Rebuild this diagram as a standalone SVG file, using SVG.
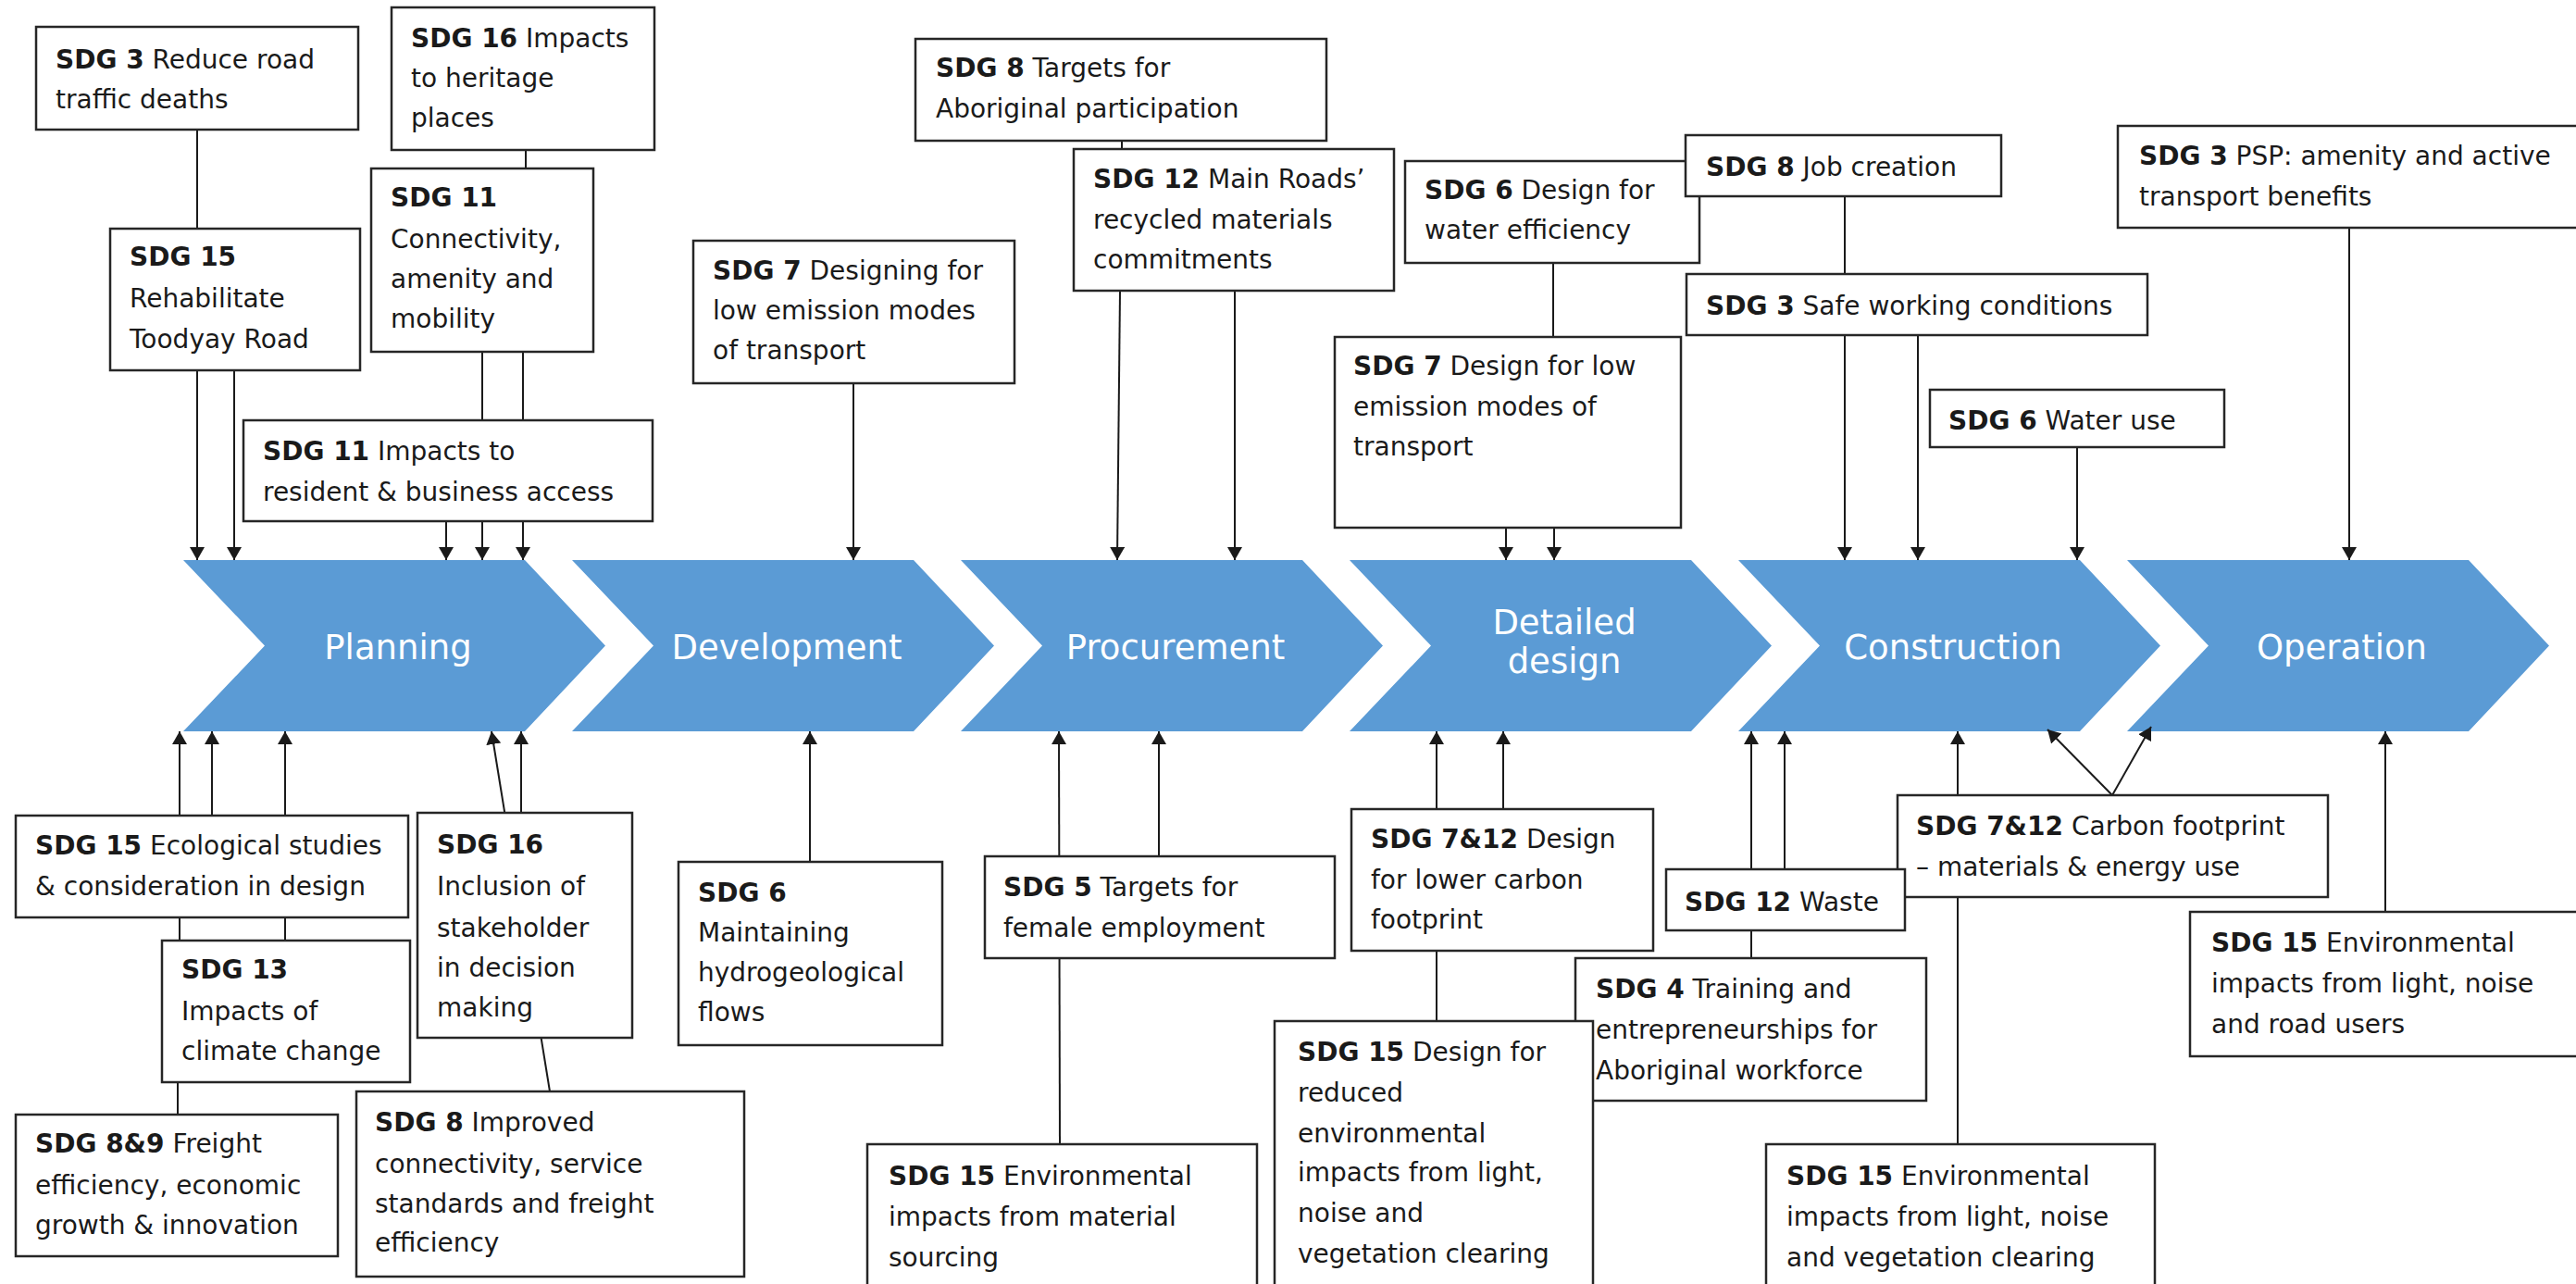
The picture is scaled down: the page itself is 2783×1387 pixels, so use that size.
<svg xmlns="http://www.w3.org/2000/svg" width="2783" height="1387" viewBox="0 0 2783 1387">
<style>
.bg{fill:#ffffff}
.chev{fill:#5B9BD5}
.clab{font-family:"DejaVu Sans","Liberation Sans",sans-serif;font-size:37px;fill:#ffffff;text-anchor:middle}
.box{fill:#ffffff;stroke:#262626;stroke-width:2.5}
.t{font-family:"DejaVu Sans","Liberation Sans",sans-serif;font-size:28px;fill:#1a1a1a}
.b{font-weight:bold}
.ln{stroke:#1a1a1a;stroke-width:2;fill:none}
.ar{stroke:#1a1a1a;stroke-width:2;fill:none;marker-end:url(#ah)}
</style>
<defs>
<marker id="ah" viewBox="0 0 14 16" refX="14" refY="8" markerWidth="14" markerHeight="16" markerUnits="userSpaceOnUse" orient="auto"><path d="M0,0 L14,8 L0,16 z" fill="#1a1a1a"/></marker>
</defs>
<rect class="bg" x="0" y="0" width="2783" height="1387"/>

<g id="stages">
<g id="planning"><polygon class="chev" points="198,605 567,605 654,697.5 567,790 198,790 286,697.5"/><text class="clab" x="430" y="712">Planning</text></g>
<g id="development"><polygon class="chev" points="618,605 987,605 1074,697.5 987,790 618,790 706,697.5"/><text class="clab" x="850" y="712">Development</text></g>
<g id="procurement"><polygon class="chev" points="1038,605 1407,605 1494,697.5 1407,790 1038,790 1126,697.5"/><text class="clab" x="1270" y="712">Procurement</text></g>
<g id="detailed-design"><polygon class="chev" points="1458,605 1827,605 1914,697.5 1827,790 1458,790 1546,697.5"/><text class="clab" x="1690" y="685">Detailed</text><text class="clab" x="1690" y="727">design</text></g>
<g id="construction"><polygon class="chev" points="1878,605 2247,605 2334,697.5 2247,790 1878,790 1966,697.5"/><text class="clab" x="2110" y="712">Construction</text></g>
<g id="operation"><polygon class="chev" points="2298,605 2667,605 2754,697.5 2667,790 2298,790 2386,697.5"/><text class="clab" x="2530" y="712">Operation</text></g>
</g>

<g id="connectors">
<line class="ln" x1="213" y1="140" x2="213" y2="247"/>
<line class="ar" x1="213" y1="400" x2="213" y2="605"/>
<line class="ar" x1="253" y1="400" x2="253" y2="605"/>
<line class="ln" x1="568" y1="162" x2="568" y2="182"/>
<line class="ar" x1="521" y1="380" x2="521" y2="605"/>
<line class="ar" x1="565" y1="380" x2="565" y2="605"/>
<line class="ar" x1="482" y1="563" x2="482" y2="605"/>
<line class="ar" x1="922" y1="414" x2="922" y2="605"/>
<line class="ln" x1="1212" y1="152" x2="1212" y2="161"/>
<line class="ar" x1="1210" y1="314" x2="1207" y2="605"/>
<line class="ar" x1="1334" y1="314" x2="1334" y2="605"/>
<line class="ln" x1="1678" y1="284" x2="1678" y2="364"/>
<line class="ar" x1="1627" y1="570" x2="1627" y2="605"/>
<line class="ar" x1="1679" y1="570" x2="1679" y2="605"/>
<line class="ln" x1="1993" y1="212" x2="1993" y2="296"/>
<line class="ar" x1="1993" y1="362" x2="1993" y2="605"/>
<line class="ar" x1="2072" y1="362" x2="2072" y2="605"/>
<line class="ar" x1="2244" y1="483" x2="2244" y2="605"/>
<line class="ar" x1="2538" y1="246" x2="2538" y2="605"/>

<line class="ar" x1="194" y1="1016" x2="194" y2="790"/>
<line class="ar" x1="229" y1="881" x2="229" y2="790"/>
<line class="ar" x1="308" y1="1016" x2="308" y2="790"/>
<line class="ln" x1="192" y1="1169" x2="192" y2="1204"/>
<line class="ar" x1="594" y1="1179" x2="531" y2="790"/>
<line class="ar" x1="563" y1="878" x2="563" y2="790"/>
<line class="ar" x1="875" y1="931" x2="875" y2="790"/>
<line class="ar" x1="1145" y1="1236" x2="1144" y2="790"/>
<line class="ar" x1="1252" y1="925" x2="1252" y2="790"/>
<line class="ar" x1="1552" y1="1103" x2="1552" y2="790"/>
<line class="ar" x1="1624" y1="874" x2="1624" y2="790"/>
<line class="ar" x1="1892" y1="1035" x2="1892" y2="790"/>
<line class="ar" x1="1928" y1="939" x2="1928" y2="790"/>
<line class="ar" x1="2115" y1="1236" x2="2115" y2="790"/>
<line class="ar" x1="2282" y1="859" x2="2212" y2="788"/>
<line class="ar" x1="2282" y1="859" x2="2324" y2="785"/>
<line class="ar" x1="2577" y1="985" x2="2577" y2="790"/>
</g>

<g id="sdg3-road"><rect class="box" x="39" y="29" width="348" height="111"/><text class="t" x="60" y="74"><tspan class="b">SDG 3</tspan> Reduce road</text><text class="t" x="60" y="117">traffic deaths</text></g>
<g id="sdg16-heritage"><rect class="box" x="423" y="8" width="284" height="154"/><text class="t" x="444" y="51"><tspan class="b">SDG 16</tspan> Impacts</text><text class="t" x="444" y="94">to heritage</text><text class="t" x="444" y="137">places</text></g>
<g id="sdg15-rehab"><rect class="box" x="119" y="247" width="270" height="153"/><text class="t b" x="140" y="287">SDG 15</text><text class="t" x="140" y="332">Rehabilitate</text><text class="t" x="140" y="376">Toodyay Road</text></g>
<g id="sdg11-connectivity"><rect class="box" x="401" y="182" width="240" height="198"/><text class="t b" x="422" y="223">SDG 11</text><text class="t" x="422" y="268">Connectivity,</text><text class="t" x="422" y="311">amenity and</text><text class="t" x="422" y="354">mobility</text></g>
<g id="sdg11-access"><rect class="box" x="263" y="454" width="442" height="109"/><text class="t" x="284" y="497"><tspan class="b">SDG 11</tspan> Impacts to</text><text class="t" x="284" y="541">resident &amp; business access</text></g>
<g id="sdg7-designing"><rect class="box" x="749" y="260" width="347" height="154"/><text class="t" x="770" y="302"><tspan class="b">SDG 7</tspan> Designing for</text><text class="t" x="770" y="345">low emission modes</text><text class="t" x="770" y="388">of transport</text></g>
<g id="sdg8-aboriginal"><rect class="box" x="989" y="42" width="444" height="110"/><text class="t" x="1011" y="83"><tspan class="b">SDG 8</tspan> Targets for</text><text class="t" x="1011" y="127">Aboriginal participation</text></g>
<g id="sdg12-recycled"><rect class="box" x="1160" y="161" width="346" height="153"/><text class="t" x="1181" y="203"><tspan class="b">SDG 12</tspan> Main Roads’</text><text class="t" x="1181" y="247">recycled materials</text><text class="t" x="1181" y="290">commitments</text></g>
<g id="sdg6-water-efficiency"><rect class="box" x="1518" y="174" width="318" height="110"/><text class="t" x="1539" y="215"><tspan class="b">SDG 6</tspan> Design for</text><text class="t" x="1539" y="258">water efficiency</text></g>
<g id="sdg8-jobs"><rect class="box" x="1821" y="146" width="341" height="66"/><text class="t" x="1843" y="190"><tspan class="b">SDG 8</tspan> Job creation</text></g>
<g id="sdg3-safe"><rect class="box" x="1822" y="296" width="498" height="66"/><text class="t" x="1843" y="340"><tspan class="b">SDG 3</tspan> Safe working conditions</text></g>
<g id="sdg7-low-emission"><rect class="box" x="1442" y="364" width="374" height="206"/><text class="t" x="1462" y="405"><tspan class="b">SDG 7</tspan> Design for low</text><text class="t" x="1462" y="449">emission modes of</text><text class="t" x="1462" y="492">transport</text></g>
<g id="sdg6-water-use"><rect class="box" x="2085" y="421" width="318" height="62"/><text class="t" x="2105" y="464"><tspan class="b">SDG 6</tspan> Water use</text></g>
<g id="sdg3-psp"><rect class="box" x="2288" y="136" width="512" height="110"/><text class="t" x="2311" y="178"><tspan class="b">SDG 3</tspan> PSP: amenity and active</text><text class="t" x="2311" y="222">transport benefits</text></g>

<g id="sdg15-ecological"><rect class="box" x="17" y="881" width="424" height="110"/><text class="t" x="38" y="923"><tspan class="b">SDG 15</tspan> Ecological studies</text><text class="t" x="38" y="967">&amp; consideration in design</text></g>
<g id="sdg16-stakeholder"><rect class="box" x="451" y="878" width="232" height="243"/><text class="t b" x="472" y="922">SDG 16</text><text class="t" x="472" y="967">Inclusion of</text><text class="t" x="472" y="1012">stakeholder</text><text class="t" x="472" y="1055">in decision</text><text class="t" x="472" y="1098">making</text></g>
<g id="sdg13-climate"><rect class="box" x="175" y="1016" width="268" height="153"/><text class="t b" x="196" y="1057">SDG 13</text><text class="t" x="196" y="1102">Impacts of</text><text class="t" x="196" y="1145">climate change</text></g>
<g id="sdg89-freight"><rect class="box" x="17" y="1204" width="348" height="153"/><text class="t" x="38" y="1245"><tspan class="b">SDG 8&amp;9</tspan> Freight</text><text class="t" x="38" y="1290">efficiency, economic</text><text class="t" x="38" y="1333">growth &amp; innovation</text></g>
<g id="sdg8-connectivity"><rect class="box" x="385" y="1179" width="419" height="200"/><text class="t" x="405" y="1222"><tspan class="b">SDG 8</tspan> Improved</text><text class="t" x="405" y="1267">connectivity, service</text><text class="t" x="405" y="1310">standards and freight</text><text class="t" x="405" y="1352">efficiency</text></g>
<g id="sdg6-hydro"><rect class="box" x="733" y="931" width="285" height="198"/><text class="t b" x="754" y="974">SDG 6</text><text class="t" x="754" y="1017">Maintaining</text><text class="t" x="754" y="1060">hydrogeological</text><text class="t" x="754" y="1103">flows</text></g>
<g id="sdg5-female"><rect class="box" x="1064" y="925" width="378" height="110"/><text class="t" x="1084" y="968"><tspan class="b">SDG 5</tspan> Targets for</text><text class="t" x="1084" y="1012">female employment</text></g>
<g id="sdg15-material"><rect class="box" x="937" y="1236" width="421" height="160"/><text class="t" x="960" y="1280"><tspan class="b">SDG 15</tspan> Environmental</text><text class="t" x="960" y="1324">impacts from material</text><text class="t" x="960" y="1368">sourcing</text></g>
<g id="sdg712-design"><rect class="box" x="1460" y="874" width="326" height="153"/><text class="t" x="1481" y="916"><tspan class="b">SDG 7&amp;12</tspan> Design</text><text class="t" x="1481" y="960">for lower carbon</text><text class="t" x="1481" y="1003">footprint</text></g>
<g id="sdg4-training"><rect class="box" x="1702" y="1035" width="379" height="154"/><text class="t" x="1724" y="1078"><tspan class="b">SDG 4</tspan> Training and</text><text class="t" x="1724" y="1122">entrepreneurships for</text><text class="t" x="1724" y="1166">Aboriginal workforce</text></g>
<g id="sdg15-design"><rect class="box" x="1377" y="1103" width="344" height="300"/><text class="t" x="1402" y="1146"><tspan class="b">SDG 15</tspan> Design for</text><text class="t" x="1402" y="1190">reduced</text><text class="t" x="1402" y="1234">environmental</text><text class="t" x="1402" y="1276">impacts from light,</text><text class="t" x="1402" y="1320">noise and</text><text class="t" x="1402" y="1364">vegetation clearing</text></g>
<g id="sdg712-carbon"><rect class="box" x="2050" y="859" width="465" height="110"/><text class="t" x="2070" y="902"><tspan class="b">SDG 7&amp;12</tspan> Carbon footprint</text><text class="t" x="2070" y="946">– materials &amp; energy use</text></g>
<g id="sdg12-waste"><rect class="box" x="1800" y="939" width="258" height="66"/><text class="t" x="1820" y="984"><tspan class="b">SDG 12</tspan> Waste</text></g>
<g id="sdg15-vegetation"><rect class="box" x="1908" y="1236" width="420" height="160"/><text class="t" x="1930" y="1280"><tspan class="b">SDG 15</tspan> Environmental</text><text class="t" x="1930" y="1324">impacts from light, noise</text><text class="t" x="1930" y="1368">and vegetation clearing</text></g>
<g id="sdg15-road-users"><rect class="box" x="2366" y="985" width="434" height="156"/><text class="t" x="2389" y="1028"><tspan class="b">SDG 15</tspan> Environmental</text><text class="t" x="2389" y="1072">impacts from light, noise</text><text class="t" x="2389" y="1116">and road users</text></g>
</svg>
